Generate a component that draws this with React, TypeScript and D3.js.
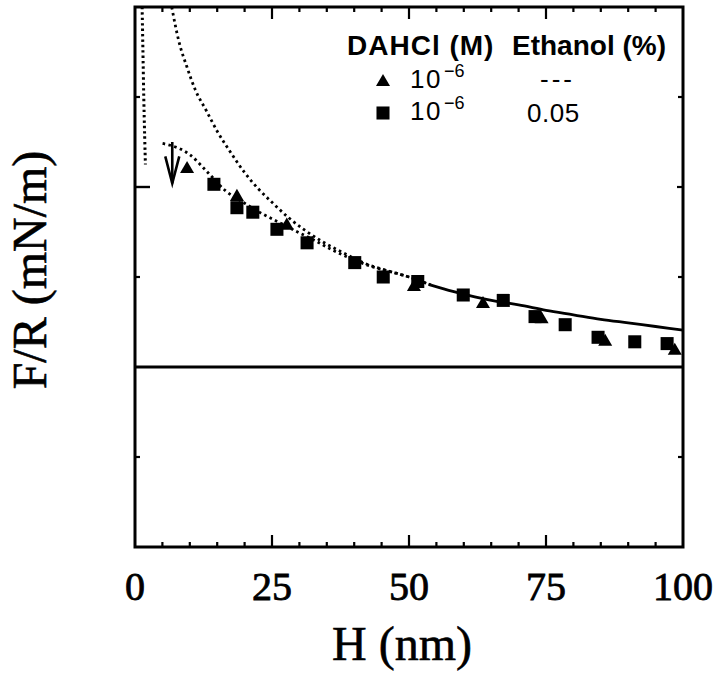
import React from "react";
import * as d3 from "d3";

// ---- data (H in nm, F/R in mN/m) ----
const triangleH = [9.5, 18.6, 27.7, 50.9, 63.5, 74.2, 85.8, 98.5];
const triangleF = [2.2, 1.89, 1.57, 0.89, 0.7, 0.53, 0.28, 0.18];

const squareH = [14.4, 18.6, 21.5, 25.9, 31.4, 40.1, 45.3, 51.6, 59.9, 67.2, 73.0, 78.5, 84.5, 91.2, 97.1];
const squareF = [2.03, 1.77, 1.72, 1.53, 1.38, 1.16, 1.0, 0.95, 0.8, 0.74, 0.56, 0.47, 0.33, 0.28, 0.26];

// upper dotted curve (before merging)
const upperH = [6.7, 8, 9.5, 11, 13, 15, 17.5, 20, 22.5, 25, 28, 31, 34, 38, 42, 46, 50, 54];
const upperF = [4.0, 3.62, 3.33, 3.08, 2.85, 2.62, 2.38, 2.16, 1.98, 1.83, 1.66, 1.52, 1.4, 1.27, 1.15, 1.07, 1.0, 0.91];

// lower dotted curve (before merging)
const lowerH = [4.5, 6, 8, 10, 13, 16.5, 20, 23, 26.5, 30, 33, 36, 40, 43.5, 46, 50, 54];
const lowerF = [2.49, 2.47, 2.43, 2.36, 2.18, 1.96, 1.82, 1.71, 1.6, 1.49, 1.4, 1.3, 1.19, 1.11, 1.07, 1.0, 0.91];

// merged tail, appears solid
const tailH = [54, 58, 62, 66, 70, 75, 80, 85, 90, 95, 100];
const tailF = [0.91, 0.84, 0.78, 0.73, 0.69, 0.63, 0.58, 0.53, 0.49, 0.45, 0.41];

const steepH = [1.3, 1.45, 1.6, 1.75, 1.9];
const steepF = [4.0, 3.5, 3.0, 2.6, 2.25];

const arrowH = 6.8;
const arrowF = [2.5, 2.04];

const xTicks = [0, 25, 50, 75, 100];
const xMinor = d3.range(0, 101, 5);
const yMajor = [2];
const yMinor = [-1, 1, 3];

const legendHeader = ["DAHCl (M)", "Ethanol (%)"];
const legendConc = ["10", "10"];
const legendExp = ["\u22126", "\u22126"];
const legendEthanol = ["---", "0.05"];

const W = 714;
const H = 673;

export default function App() {
  const x = d3.scaleLinear().domain([0, 100]).range([135, 683]);
  const y = d3.scaleLinear().domain([-2, 4]).range([547, 7]);

  const line = d3
    .line<[number, number]>()
    .x((d) => x(d[0]))
    .y((d) => y(d[1]))
    .curve(d3.curveMonotoneX);
  const lineCR = d3
    .line<[number, number]>()
    .x((d) => x(d[0]))
    .y((d) => y(d[1]))
    .curve(d3.curveCatmullRom);

  const upper = upperH.map((h, i) => [h, upperF[i]] as [number, number]);
  const lower = lowerH.map((h, i) => [h, lowerF[i]] as [number, number]);
  const tail = tailH.map((h, i) => [h, tailF[i]] as [number, number]);
  const steep = steepH.map((h, i) => [h, steepF[i]] as [number, number]);

  const tri = d3.symbol(d3.symbolTriangle, 85)()!;
  const sq = d3.symbol(d3.symbolSquare, 170)()!;

  const serif = "'Liberation Serif', 'Times New Roman', serif";
  const sans = "'Liberation Sans', Arial, Helvetica, sans-serif";

  const x0 = x(0), x1 = x(100), yTop = y(4), yBot = y(-2);
  const ax = x(arrowH);

  return (
    <svg
      width={W}
      height={H}
      style={{ position: "absolute", left: 0, top: 0, background: "#fff" }}
    >
      <rect x={0} y={0} width={W} height={H} fill="#fff" />

      {/* curves */}
      <path d={line(upper)!} fill="none" stroke="#000" strokeWidth={2.8} strokeDasharray="2.6 3.4" />
      <path d={line(lower)!} fill="none" stroke="#000" strokeWidth={2.8} strokeDasharray="2.6 3.4" strokeDashoffset={3} />
      <path d={line(tail)!} fill="none" stroke="#000" strokeWidth={2.8} />
      <path d={lineCR(steep)!} fill="none" stroke="#000" strokeWidth={3} strokeDasharray="2.4 3" />

      {/* zero line */}
      <line x1={x0} x2={x1} y1={y(0)} y2={y(0)} stroke="#000" strokeWidth={3} />

      {/* arrow */}
      <line x1={ax} x2={ax} y1={y(arrowF[0])} y2={y(arrowF[1])} stroke="#000" strokeWidth={2.6} />
      <path
        d={`M${ax - 7},${y(arrowF[1]) - 27} L${ax},${y(arrowF[1])} L${ax + 7},${y(arrowF[1]) - 27}`}
        fill="none"
        stroke="#000"
        strokeWidth={2.6}
      />

      {/* data points */}
      {squareH.map((h, i) => (
        <path key={"s" + i} d={sq} transform={`translate(${x(h)},${y(squareF[i])})`} fill="#000" />
      ))}
      {triangleH.map((h, i) => (
        <path key={"t" + i} d={tri} transform={`translate(${x(h)},${y(triangleF[i])})`} fill="#000" />
      ))}

      {/* frame */}
      <rect x={x0} y={yTop} width={x1 - x0} height={yBot - yTop} fill="none" stroke="#000" strokeWidth={3} />

      {/* x ticks bottom & top */}
      {xMinor.filter((v) => v > 0 && v < 100).map((v) => {
        const len = v % 25 === 0 ? 12 : 5;
        return (
          <g key={"xt" + v}>
            <line x1={x(v)} x2={x(v)} y1={yBot} y2={yBot - len} stroke="#000" strokeWidth={2.2} />
            <line x1={x(v)} x2={x(v)} y1={yTop} y2={yTop + len} stroke="#000" strokeWidth={2.2} />
          </g>
        );
      })}

      {/* y ticks left & right */}
      {yMajor.map((v) => (
        <g key={"ym" + v}>
          <line x1={x0} x2={x0 + 15} y1={y(v)} y2={y(v)} stroke="#000" strokeWidth={2.4} />
          <line x1={x1} x2={x1 - 6} y1={y(v)} y2={y(v)} stroke="#000" strokeWidth={2.2} />
        </g>
      ))}
      {yMinor.map((v) => (
        <g key={"yn" + v}>
          <line x1={x0} x2={x0 + 5} y1={y(v)} y2={y(v)} stroke="#000" strokeWidth={2.2} />
          <line x1={x1} x2={x1 - 5} y1={y(v)} y2={y(v)} stroke="#000" strokeWidth={2.2} />
        </g>
      ))}

      {/* x tick labels */}
      {xTicks.map((v) => (
        <text
          key={"xl" + v}
          x={x(v)}
          y={600}
          textAnchor="middle"
          fontFamily={serif}
          fontSize={40}
          fill="#000"
          stroke="#000"
          strokeWidth={0.8}
        >
          {v}
        </text>
      ))}

      {/* axis titles */}
      <text x={402} y={660} textAnchor="middle" fontFamily={serif} fontSize={48} fill="#000" stroke="#000" strokeWidth={0.6}>
        H (nm)
      </text>
      <text
        transform={`translate(46,270) rotate(-90)`}
        textAnchor="middle"
        fontFamily={serif}
        fontSize={48}
        fill="#000"
        stroke="#000"
        strokeWidth={0.6}
      >
        F/R (mN/m)
      </text>

      {/* legend */}
      <text x={347} y={55} fontFamily={sans} fontSize={28} fontWeight="bold" letterSpacing={1} fill="#000">
        {legendHeader[0]}
      </text>
      <text x={512} y={55} fontFamily={sans} fontSize={28} fontWeight="bold" fill="#000">
        {legendHeader[1]}
      </text>

      {[0, 1].map((i) => {
        const cy = i === 0 ? 82 : 113;
        const base = i === 0 ? 88 : 120;
        return (
          <g key={"lg" + i}>
            <path d={i === 0 ? tri : sq} transform={`translate(383,${cy})`} fill="#000" />
            <text x={410} y={base} fontFamily={sans} fontSize={26} letterSpacing={1.5} fill="#000">
              {legendConc[i]}
            </text>
            <text x={444} y={base - 11} fontFamily={sans} fontSize={18} fill="#000">
              {legendExp[i]}
            </text>
            <text
              x={i === 0 ? 540 : 527}
              y={i === 0 ? 88 : 122}
              fontFamily={sans}
              fontSize={26}
              letterSpacing={i === 0 ? 3 : 0.5}
              fill="#000"
            >
              {legendEthanol[i]}
            </text>
          </g>
        );
      })}
    </svg>
  );
}
